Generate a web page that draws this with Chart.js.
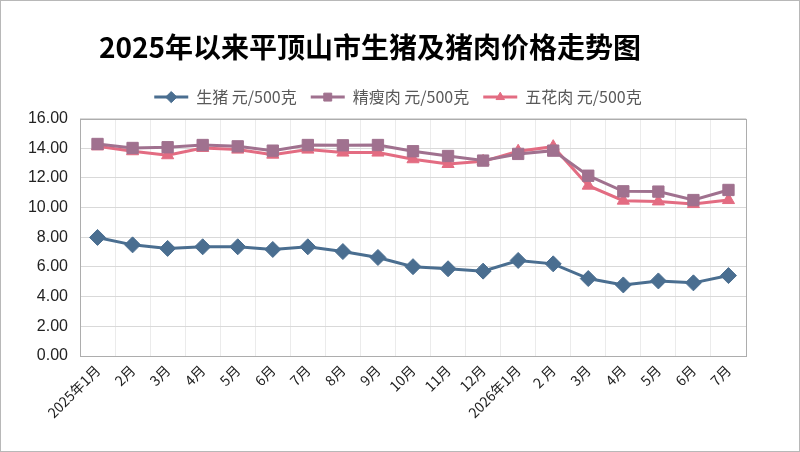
<!DOCTYPE html>
<html>
<head>
<meta charset="utf-8">
<title>2025年以来平顶山市生猪及猪肉价格走势图</title>
<script src="https://cdn.jsdelivr.net/npm/chart.js@4.4.1/dist/chart.umd.min.js"></script>
<style>
    html, body { margin: 0; padding: 0; background: #fff; }
    #wrap { position: relative; width: 800px; height: 452px; }
    #wrap:after { content: ''; position: absolute; left: 0; top: 0; right: 0; bottom: 0; border: 1px solid #b8b8b8; pointer-events: none; }
</style>
</head>
<body>
<div id="wrap"><canvas id="priceChart" width="800" height="452"></canvas></div>
<script>
    const months = ['2025年1月', '2月', '3月', '4月', '5月', '6月', '7月', '8月', '9月', '10月', '11月', '12月',
        '2026年1月', '2 月', '3月', '4月', '5月', '6月', '7月'];

    // 元/500克
    const livePig = [7.99, 7.49, 7.25, 7.36, 7.36, 7.18, 7.36, 7.04, 6.64, 6.02, 5.88, 5.72,
        6.44, 6.21, 5.22, 4.79, 5.06, 4.93, 5.42];
    const leanPork = [14.29, 14.02, 14.07, 14.22, 14.13, 13.84, 14.22, 14.20, 14.22, 13.80, 13.48, 13.17,
        13.62, 13.84, 12.15, 11.10, 11.08, 10.51, 11.19];
    const porkBelly = [14.13, 13.80, 13.53, 14.02, 13.91, 13.57, 13.91, 13.71, 13.71, 13.26, 12.94, 13.12,
        13.80, 14.11, 11.48, 10.47, 10.42, 10.24, 10.51];

    const yTicks = [0, 2, 4, 6, 8, 10, 12, 14, 16];

    const cjkFont = '"Noto Sans CJK SC", "Noto Sans", sans-serif';

    // draws a line + marker in each legend box (boxes themselves are transparent)
    const legendLines = {
        id: 'legendLines',
        afterLayout(chart) {
            chart.legend.left += 25;
            chart.legend.right += 25;
            chart.titleBlock.left -= 3;
            chart.titleBlock.right -= 3;
        },
        beforeDatasetsDraw(chart) {
            const a = chart.chartArea;
            const ctx = chart.ctx;
            ctx.save();
            ctx.strokeStyle = '#adadad';
            ctx.lineWidth = 1;
            ctx.strokeRect(Math.round(a.left) + 0.5, Math.round(a.top) + 0.5,
                Math.round(a.right - a.left), Math.round(a.bottom - a.top));
            ctx.restore();
        },
        afterDraw(chart) {
            const legend = chart.legend;
            if (!legend || !legend.legendHitBoxes) return;
            const ctx = chart.ctx;
            const boxW = legend.options.labels.boxWidth;
            legend.legendHitBoxes.forEach((box, i) => {
                const ds = chart.data.datasets[i];
                const y = box.top + box.height / 2;
                const x0 = box.left;
                const x1 = box.left + boxW;
                ctx.save();
                ctx.strokeStyle = ds.borderColor;
                ctx.fillStyle = ds.borderColor;
                ctx.lineWidth = 3;
                ctx.beginPath();
                ctx.moveTo(x0, y);
                ctx.lineTo(x1, y);
                ctx.stroke();
                ctx.lineWidth = 1;
                Chart.helpers.drawPoint(ctx, {
                    pointStyle: ds.pointStyle,
                    radius: ds.pointRadius * 0.7,
                    borderWidth: 1,
                    rotation: 0
                }, (x0 + x1) / 2, y);
                ctx.restore();
            });
        }
    };

    const ctx = document.getElementById('priceChart').getContext('2d');

    const priceChart = new Chart(ctx, {
        type: 'line',
        data: {
            labels: months,
            datasets: [
                {
                    label: '生猪 元/500克',
                    data: livePig,
                    borderColor: '#4a6e90',
                    backgroundColor: '#4a6e90',
                    borderWidth: 3,
                    pointStyle: 'rectRot',
                    pointRadius: 8,
                    pointBorderWidth: 1,
                    tension: 0
                },
                {
                    label: '精瘦肉 元/500克',
                    data: leanPork,
                    borderColor: '#a0718f',
                    backgroundColor: '#a0718f',
                    borderWidth: 3,
                    pointStyle: 'rect',
                    pointRadius: 8,
                    pointBorderWidth: 1,
                    tension: 0
                },
                {
                    label: '五花肉 元/500克',
                    data: porkBelly,
                    borderColor: '#e36c82',
                    backgroundColor: '#e36c82',
                    borderWidth: 3,
                    pointStyle: 'triangle',
                    pointRadius: 7,
                    pointBorderWidth: 1,
                    tension: 0
                }
            ]
        },
        options: {
            responsive: false,
            animation: false,
            events: [],
            layout: {
                padding: { left: 0, right: 54, top: 10, bottom: 0 }
            },
            plugins: {
                title: {
                    display: true,
                    text: '2025年以来平顶山市生猪及猪肉价格走势图',
                    color: '#000',
                    font: { family: cjkFont, size: 28, weight: 'bold', lineHeight: 1.2 },
                    padding: { top: 21, bottom: 7 }
                },
                legend: {
                    display: true,
                    position: 'top',
                    labels: {
                        color: '#595959',
                        font: { family: cjkFont, size: 16 },
                        boxWidth: 34,
                        boxHeight: 23,
                        padding: 14,
                        generateLabels(chart) {
                            const items = Chart.defaults.plugins.legend.labels.generateLabels(chart);
                            items.forEach(it => {
                                it.fillStyle = 'rgba(0,0,0,0)';
                                it.strokeStyle = 'rgba(0,0,0,0)';
                                it.lineWidth = 0;
                            });
                            return items;
                        }
                    }
                },
                tooltip: { enabled: false }
            },
            scales: {
                x: {
                    offset: true,
                    grid: { offset: true, color: '#ebebeb', drawTicks: false },
                    border: { display: false },
                    ticks: {
                        color: '#222',
                        font: { family: cjkFont, size: 14 },
                        minRotation: 45,
                        maxRotation: 45,
                        autoSkip: false,
                        padding: 6
                    },
                    afterFit(scale) { scale.height = 96; }
                },
                y: {
                    min: 0,
                    max: 16,
                    afterBuildTicks(scale) { scale.ticks = yTicks.map(v => ({ value: v })); },
                    grid: { color: '#d9d9d9', drawTicks: false },
                    border: { display: false },
                    ticks: {
                        color: '#222',
                        font: { family: '"Liberation Sans", Arial, sans-serif', size: 16 },
                        padding: 12,
                        callback: v => Number(v).toFixed(2)
                    },
                    afterFit(scale) { scale.width = 80; }
                }
            }
        },
        plugins: [legendLines]
    });
</script>
</body>
</html>
